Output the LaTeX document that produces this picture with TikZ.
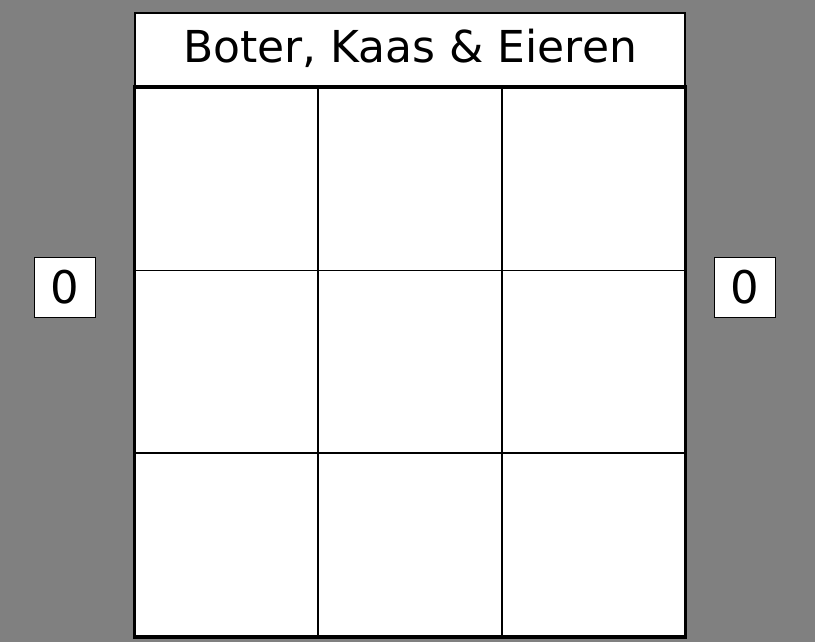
\documentclass[tikz,border=0pt]{standalone}
\usepackage{fontspec}
\setmainfont{DejaVu Sans}
\usepackage{tikz}

\begin{document}
\begin{tikzpicture}[x=1pt,y=-1pt,
  cell/.style={draw=black,line width=1.6pt,fill=white,minimum size=183pt,inner sep=0pt},
  score/.style={draw=black,line width=1pt,fill=white,minimum width=61pt,minimum height=60pt,inner sep=0pt,font=\fontsize{45}{45}\selectfont}]
  \fill[fill={rgb,255:red,128;green,128;blue,128}] (0,0) rectangle (815,642);
  \useasboundingbox (0,0) rectangle (815,642);
  % titel
  \draw[line width=2pt,fill=white] (135,13) rectangle (685,86);
  \node[anchor=base,inner sep=0pt] (title) at (410,63) {\fontsize{44}{44}\selectfont Boter, Kaas \& Eieren};
  % speelveld
  \foreach \r in {0,1,2} {
    \foreach \c in {0,1,2} {
      \node[cell] (c\r\c) at (226.7+183.3*\c,179.3+182.7*\r) {};
    }
  }
  \draw[line width=3pt] (c00.north west) rectangle (c22.south east);
  % scores
  \node[score] (left) at (65,287) {0};
  \node[score] (right) at (745,287) {0};
\end{tikzpicture}
\end{document}
